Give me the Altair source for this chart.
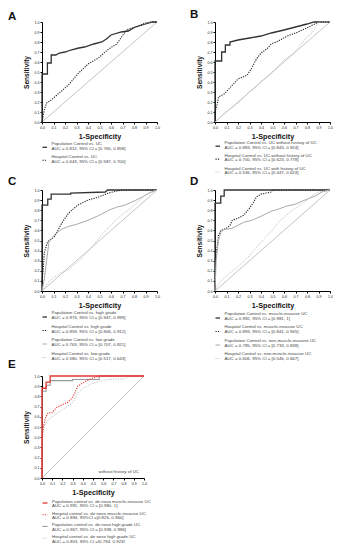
import altair as alt
import pandas as pd

FONT = "Liberation Sans"

# ---------------- curve data (1-specificity, sensitivity) ----------------
A_pop = [(0,0),(0,0.48),(0.047,0.48),(0.047,0.59),(0.08,0.59),(0.08,0.67),(0.12,0.67),(0.15,0.69),(0.2,0.70),
         (0.25,0.72),(0.32,0.74),(0.37,0.75),(0.45,0.78),(0.52,0.80),(0.56,0.83),(0.6,0.87),(0.69,0.90),
         (0.75,0.91),(0.81,0.95),(0.87,0.97),(0.93,0.99),(0.96,1.0),(1,1)]
A_hosp = [(0,0),(0.01,0.06),(0.02,0.12),(0.04,0.19),(0.08,0.22),(0.14,0.28),(0.23,0.37),(0.31,0.48),(0.4,0.58),
          (0.49,0.64),(0.58,0.73),(0.65,0.78),(0.71,0.88),(0.75,0.93),(0.82,0.95),(0.9,0.99),(0.95,1.0),(1,1)]

B_pop = [(0,0),(0,0.61),(0.058,0.61),(0.058,0.70),(0.09,0.70),(0.09,0.77),(0.13,0.77),(0.13,0.80),(0.2,0.82),
         (0.3,0.84),(0.4,0.86),(0.49,0.89),(0.6,0.92),(0.7,0.95),(0.8,0.98),(0.86,1.0),(1,1)]
B_hosp = [(0,0),(0,0.10),(0.02,0.18),(0.03,0.25),(0.08,0.28),(0.12,0.33),(0.2,0.43),(0.28,0.47),(0.32,0.54),
          (0.36,0.63),(0.40,0.69),(0.45,0.73),(0.49,0.78),(0.55,0.81),(0.63,0.86),(0.7,0.89),(0.78,0.93),
          (0.85,0.97),(0.9,1.0),(1,1)]
B_hosp_hist = [(0,0),(0.05,0.05),(0.1,0.11),(0.15,0.14),(0.2,0.19),(0.25,0.24),(0.3,0.31),(0.35,0.34),(0.4,0.41),
               (0.45,0.44),(0.5,0.50),(0.55,0.56),(0.6,0.62),(0.65,0.66),(0.7,0.71),(0.75,0.78),(0.8,0.85),
               (0.85,0.90),(0.9,1.0),(1,1)]

C_pop_high = [(0,0),(0,0.85),(0.05,0.85),(0.05,0.91),(0.08,0.91),(0.08,0.96),(0.25,0.96),(0.25,0.97),
              (0.55,0.98),(0.57,1.0),(1,1)]
C_hosp_high = [(0,0),(0,0.1),(0.01,0.2),(0.02,0.38),(0.05,0.49),(0.11,0.54),(0.17,0.67),(0.23,0.77),
               (0.31,0.85),(0.4,0.90),(0.49,0.93),(0.58,0.97),(0.65,0.99),(0.7,1.0),(1,1)]
C_pop_low = [(0,0),(0.02,0.12),(0.04,0.30),(0.06,0.48),(0.11,0.56),(0.17,0.61),(0.23,0.64),(0.3,0.66),
             (0.4,0.70),(0.5,0.75),(0.58,0.80),(0.65,0.83),(0.72,0.85),(0.8,0.89),(0.87,0.93),(0.93,0.97),(1,1)]
C_hosp_low = [(0,0),(0.05,0.08),(0.1,0.13),(0.15,0.17),(0.23,0.21),(0.3,0.28),(0.35,0.33),(0.4,0.39),
              (0.45,0.46),(0.52,0.56),(0.58,0.63),(0.64,0.70),(0.7,0.76),(0.75,0.80),(0.8,0.85),(0.85,0.9),
              (0.9,0.95),(0.95,0.98),(1,1)]

D_pop_mi = [(0,0),(0,0.87),(0.05,0.87),(0.05,0.94),(0.08,0.94),(0.08,1.0),(1,1)]
D_hosp_mi = [(0,0),(0,0.3),(0.02,0.45),(0.03,0.55),(0.05,0.60),(0.1,0.62),(0.13,0.65),(0.15,0.70),(0.2,0.72),
             (0.25,0.75),(0.3,0.82),(0.33,0.87),(0.36,0.93),(0.4,0.96),(0.45,0.97),(0.49,0.98),(0.5,1.0),(1,1)]
D_pop_nmi = [(0,0),(0.01,0.30),(0.03,0.50),(0.05,0.58),(0.08,0.61),(0.145,0.62),(0.2,0.65),(0.25,0.68),
             (0.32,0.70),(0.4,0.74),(0.49,0.79),(0.55,0.81),(0.62,0.84),(0.7,0.86),(0.78,0.90),(0.87,0.94),
             (0.93,0.98),(1,1)]
D_hosp_nmi = [(0,0),(0.03,0.07),(0.05,0.10),(0.1,0.15),(0.15,0.20),(0.2,0.24),(0.25,0.30),(0.3,0.35),
              (0.35,0.42),(0.4,0.48),(0.45,0.55),(0.5,0.60),(0.55,0.68),(0.6,0.73),(0.65,0.78),(0.7,0.82),
              (0.75,0.86),(0.8,0.90),(0.85,0.95),(0.9,0.98),(1,1)]

E_pop_mi = [(0,0),(0,0.88),(0.04,0.88),(0.04,0.94),(0.08,0.94),(0.08,1.0),(1,1)]
E_hosp_mi = [(0,0),(0,0.30),(0.01,0.48),(0.03,0.58),(0.06,0.64),(0.1,0.64),(0.14,0.69),(0.2,0.72),
             (0.25,0.74),(0.3,0.79),(0.32,0.83),(0.35,0.90),(0.43,0.95),(0.5,0.98),(0.56,1.0),(1,1)]
E_pop_high = [(0,0),(0,0.85),(0.04,0.85),(0.04,0.91),(0.08,0.91),(0.08,0.955),(0.3,0.955),(0.3,0.965),
              (0.56,0.965),(0.56,1.0),(1,1)]
E_hosp_high = [(0,0),(0,0.40),(0.02,0.50),(0.05,0.56),(0.1,0.60),(0.2,0.67),(0.3,0.74),(0.35,0.83),
               (0.4,0.88),(0.5,0.93),(0.6,0.96),(0.7,0.97),(0.81,0.97),(0.85,1.0),(1,1)]

# ---------------- legend texts ----------------
A_legend = [("Population Control vs. UC", "AUC = 0.812, 95%  CI = [0.765, 0.858]"),
            ("Hospital Control vs. UC", "AUC = 0.643, 95%  CI = [0.587, 0.700]")]
B_legend = [("Population Control vs. UC without history of UC", "AUC = 0.883, 95%  CI = [0.843, 0.924]"),
            ("Hospital Control vs. UC without history of UC", "AUC = 0.700, 95%  CI = [0.623, 0.778]"),
            ("Hospital Control vs. UC with history of UC", "AUC = 0.536, 95%  CI = [0.447, 0.624]")]
C_legend = [("Population Control vs. high grade", "AUC = 0.973, 95%  CI = [0.947, 0.999]"),
            ("Hospital Control vs. high grade", "AUC = 0.859, 95%  CI = [0.806, 0.912]"),
            ("Population Control vs. low grade", "AUC = 0.763, 95%  CI = [0.707, 0.821]"),
            ("Hospital Control vs. low grade", "AUC = 0.580, 95%  CI = [0.517, 0.643]")]
D_legend = [("Population Control vs. muscle-invasive UC", "AUC = 0.992, 95%  CI = [0.981, 1]"),
            ("Hospital Control vs. muscle-invasive UC", "AUC = 0.893, 95%  CI = [0.841, 0.945]"),
            ("Population Control vs. non-muscle-invasive UC", "AUC = 0.785, 95%  CI = [0.733, 0.838]"),
            ("Hospital Control vs. non-muscle-invasive UC", "AUC = 0.606, 95%  CI = [0.546, 0.667]")]
E_legend = [("Population control vs. de novo muscle-invasive UC", "AUC = 0.991, 95% CI = [0.980, 1]"),
            ("Hospital control vs. de novo muscle-invasive UC", "AUC = 0.894, 95%CI =[0.826, 0.960]"),
            ("Population control vs. de novo high grade UC", "AUC = 0.967, 95% CI = [0.938, 0.996]"),
            ("Hospital control vs. de novo high grade UC", "AUC = 0.853, 95% CI =[0.784, 0.923]")]

TICKS = [0.0, 0.1, 0.2, 0.3, 0.4, 0.5, 0.6, 0.7, 0.8, 0.9, 1.0]

DARK = "#333333"
DARKDOT = "#222222"
LIGHT = "#aaaaaa"
LIGHTDOT = "#c2c2c2"
RED = "#e53935"
DIAG = "#bdbdbd"

STY = {
    "dark": dict(color=DARK, strokeWidth=1.3),
    "darkdot": dict(color=DARKDOT, strokeWidth=1.1, strokeDash=[1.2, 1.2]),
    "light": dict(color=LIGHT, strokeWidth=1.0),
    "lightdot": dict(color=LIGHTDOT, strokeWidth=1.0, strokeDash=[1.2, 1.2]),
    "red": dict(color=RED, strokeWidth=1.3),
    "reddot": dict(color=RED, strokeWidth=1.1, strokeDash=[1.2, 1.2]),
    "gray": dict(color="#999999", strokeWidth=1.1),
}

ONE = pd.DataFrame({"d": [0]})


def xaxis():
    return alt.Axis(values=TICKS, format=".1f", grid=False, labelFontSize=3.6, labelPadding=1,
                    tickSize=2, tickColor="black", domainColor="black", labelColor="#222",
                    labelFont=FONT, title="1-Specificity", titleFont=FONT, titleFontSize=7.2,
                    titleFontWeight="bold", titlePadding=3.5, titleColor="#111", labelFlush=False)


def yaxis():
    return alt.Axis(values=TICKS, format=".1f", grid=False, labelFontSize=3.6, labelPadding=1,
                    tickSize=2, tickColor="black", domainColor="black", labelColor="#222",
                    labelFont=FONT, title="Sensitivity", titleFont=FONT, titleFontSize=6.6,
                    titleFontWeight="bold", titlePadding=4.5, titleColor="#111", labelFlush=False)


def make_scales(h, top):
    xs = alt.Scale(domain=[0, 1], nice=False, zero=False)
    if top:
        ys = alt.Scale(domain=[0, 1], nice=False, zero=False, range=[h, top])
    else:
        ys = alt.Scale(domain=[0, 1], nice=False, zero=False)
    return xs, ys


def curve(pts, style, xs, ys):
    df = pd.DataFrame(pts, columns=["fpr", "tpr"])
    df["order"] = range(len(df))
    return alt.Chart(df).mark_line(**STY[style]).encode(
        x=alt.X("fpr:Q", scale=xs, axis=xaxis()),
        y=alt.Y("tpr:Q", scale=ys, axis=yaxis()),
        order="order:Q",
    )


def txt(s, x, y, size=4.4, weight="normal", align="left", baseline="middle", color="#444"):
    return alt.Chart(ONE).mark_text(align=align, baseline=baseline, fontSize=size, fontWeight=weight,
                                    font=FONT, color=color).encode(
        x=alt.value(x), y=alt.value(y), text=alt.value(s))


def sample(style, x0, x1, y):
    return alt.Chart(ONE).mark_rule(**STY[style]).encode(x=alt.value(x0), x2=alt.value(x1), y=alt.value(y))


def panel(letter, curves, styles, legend, leg_styles, w, h, start, inner, step, soff, lx, ly,
          top=0, txt_x=9.5, samp_x1=5.0, extra=None):
    xs, ys = make_scales(h, top)
    diag = pd.DataFrame({"fpr": [0, 1], "tpr": [0, 1], "order": [0, 1]})
    layers = [alt.Chart(diag).mark_line(color=DIAG, strokeWidth=0.9).encode(
        x=alt.X("fpr:Q", scale=xs, axis=xaxis()),
        y=alt.Y("tpr:Q", scale=ys, axis=yaxis()),
        order="order:Q")]
    for c, s in zip(curves, styles):
        layers.append(curve(c, s, xs, ys))
    for i, (l1, l2) in enumerate(legend):
        y1 = h + start + i * step
        layers.append(txt(l1, txt_x, y1))
        layers.append(txt(l2, txt_x, y1 + inner))
        layers.append(sample(leg_styles[i], 0.5, samp_x1, y1 + soff))
    layers.append(txt(letter, lx, top + ly, size=11.5, weight="bold", baseline="alphabetic", color="#111"))
    if extra:
        layers.append(txt(extra, w - 5, h - 5.7, align="right"))
    return alt.layer(*layers).properties(width=w, height=h)


stA = ["dark", "darkdot"]
stB = ["dark", "darkdot", "lightdot"]
stCD = ["dark", "darkdot", "light", "lightdot"]

pA = panel("A", [A_pop, A_hosp], stA, A_legend, stA, 115, 100, 22.3, 4.3, 13, 3, -34, -2)
pB = panel("B", [B_pop, B_hosp, B_hosp_hist], stB, B_legend, stB, 115, 100, 21.2, 4.3, 12.9, 3, -25, -4)
pC = panel("C", [C_pop_high, C_hosp_high, C_pop_low, C_hosp_low], stCD, C_legend, stCD,
           115, 101, 22, 5.3, 13.5, 4, -34, -5)
pD = panel("D", [D_pop_mi, D_hosp_mi, D_pop_nmi, D_hosp_nmi], stCD, D_legend, stCD,
           115, 101, 22.5, 5.3, 13.5, 4.5, -25, -5.3)
# panel E: 119 px tall view with the plot in its lower 102 px (rows share one spacing)
pE = panel("E", [E_hosp_high, E_pop_high, E_hosp_mi, E_pop_mi], ["lightdot", "gray", "reddot", "red"],
           E_legend, ["red", "reddot", "gray", "lightdot"], 102, 119, 24, 4.4, 11.7, 1, -34, -8,
           top=17, txt_x=10, samp_x1=5.5, extra="without history of UC")

chart = alt.concat(pA, pB, pC, pD, pE, columns=2, spacing={"row": 68, "column": 58},
                   bounds="flush").properties(
    padding={"left": 0, "top": 1, "right": 0, "bottom": 0}
).configure_view(stroke=None)

chart.save("out.html", embed_options={"renderer": "svg", "actions": False})
